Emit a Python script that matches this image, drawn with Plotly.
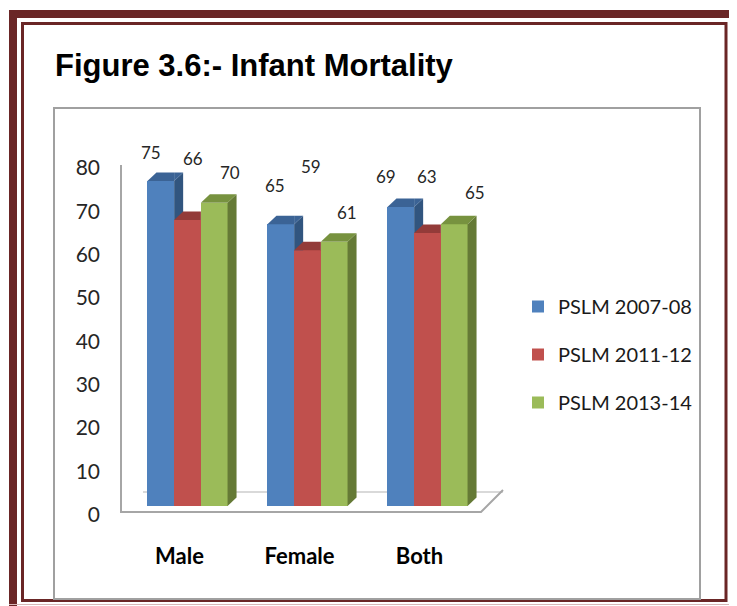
import plotly.graph_objects as go

# ---------------- data ----------------
categories = ["Male", "Female", "Both"]
series_names = ["PSLM 2007-08", "PSLM 2011-12", "PSLM 2013-14"]
pslm_2007_08 = [75, 65, 69]
pslm_2011_12 = [66, 59, 63]
pslm_2013_14 = [70, 61, 65]
y_tick_values = [0, 10, 20, 30, 40, 50, 60, 70, 80]
title_text = "Figure 3.6:- Infant Mortality"

series_values = [pslm_2007_08, pslm_2011_12, pslm_2013_14]

# ---------------- styles ----------------
front_colors = ["#4F81BD", "#C0504D", "#9BBB59"]
top_colors = ["#3B6395", "#933B39", "#77923F"]
side_colors = ["#31557F", "#7D3230", "#657A36"]
MAROON = "#6A2626"
TXT = "Lato, Liberation Sans, sans-serif"

# label pixel offsets (relative to bar centre / top), style only
label_dx = [[-9.5, -5.5, -15], [5.5, 3, -0.5], [15.5, 13, 20.5]]
label_dy = [[28.5, 39, 31], [61.5, 84, 57], [30, 29, 32]]

# geometry in reference-image pixels
REF_W, REF_H = 737, 606
OFF = 8                                  # page body margin of the browser
W, H = REF_W - OFF, REF_H - OFF          # figure size
PL, PR, PT, PB = 121, 503, 165, 520      # plot area (reference pixels)
ZERO_PX = 506                            # pixel of value 0 (bar floor)
LABEL_ZERO_PX = 514.5                    # pixel of tick label "0"
S = 4.333                                # px per unit (y)
UNIT = 120.0                             # px per category
CAT0_PX = 187.5                          # pixel of first category centre
BW = 26.7 / UNIT                         # bar width in x units
DXU = 9.0 / UNIT                         # depth x in units
DYU = 8.5 / S                            # depth y in units

xmin = (PL - CAT0_PX) / UNIT
xmax = (PR - CAT0_PX) / UNIT
ymin = -(PB - ZERO_PX) / S
ymax = (ZERO_PX - PT) / S
y2min = (LABEL_ZERO_PX - PB) / S
y2max = (LABEL_ZERO_PX - PT) / S


def xp(px):
    return (px - PL) / (PR - PL)


def yp(py):
    return (PB - py) / (PB - PT)


def clip(poly, f):
    """Sutherland-Hodgman clip of polygon against half plane f(p) >= 0."""
    out = []
    n = len(poly)
    for i in range(n):
        a, b = poly[i], poly[(i + 1) % n]
        fa, fb = f(a), f(b)
        if fa >= 0:
            out.append(a)
        if (fa >= 0) != (fb >= 0):
            t = fa / (fa - fb)
            out.append((a[0] + t * (b[0] - a[0]), a[1] + t * (b[1] - a[1])))
    return out


fig = go.Figure()

# front faces (bars)
for s, (name, vals) in enumerate(zip(series_names, series_values)):
    xs = [i + (s - 1) * BW for i in range(len(categories))]
    fig.add_trace(go.Bar(
        x=xs, y=vals, width=BW, name=name,
        marker=dict(color=front_colors[s], line=dict(width=0)),
        legendgroup=name, hoverinfo="skip",
    ))

# 3D side / top faces (visible parts only)
for i in range(len(categories)):
    for s in range(len(series_values)):
        v = series_values[s][i]
        c = i + (s - 1) * BW
        h = BW / 2
        side = [(c + h, 0), (c + h + DXU, DYU), (c + h + DXU, v + DYU), (c + h, v)]
        top = [(c - h, v), (c - h + DXU, v + DYU), (c + h + DXU, v + DYU), (c + h, v)]
        polys_side, polys_top = [], []
        if s < len(series_values) - 1:
            vn = series_values[s + 1][i]
            polys_side.append(clip(side, lambda p, vn=vn: p[1] - vn))
            polys_top.append(clip(top, lambda p, r=c + h: r - p[0]))
            right = clip(top, lambda p, r=c + h: p[0] - r)
            polys_top.append(clip(right, lambda p, vn=vn: p[1] - vn))
        else:
            polys_side.append(side)
            polys_top.append(top)
        for polys, col in ((polys_side, side_colors[s]), (polys_top, top_colors[s])):
            for poly in polys:
                if len(poly) < 3:
                    continue
                fig.add_trace(go.Scatter(
                    x=[p[0] for p in poly] + [poly[0][0]],
                    y=[p[1] for p in poly] + [poly[0][1]],
                    mode="lines", fill="toself", fillcolor=col,
                    line=dict(width=0, color=col),
                    showlegend=False, hoverinfo="skip",
                ))

# invisible trace to carry the label axis
fig.add_trace(go.Scatter(x=[0], y=[0], yaxis="y2", mode="markers",
                         marker=dict(opacity=0), showlegend=False, hoverinfo="skip"))

annotations = []
# data labels
for s, vals in enumerate(series_values):
    for i, v in enumerate(vals):
        annotations.append(dict(
            x=i + (s - 1) * BW, y=v, xref="x", yref="y", text=str(v),
            showarrow=False, xshift=label_dx[s][i], yshift=label_dy[s][i],
            font=dict(family=TXT, size=17, color="#262626"),
            xanchor="center", yanchor="middle",
        ))
# title
annotations.append(dict(
    x=xp(53), y=yp(66), xref="paper", yref="paper", text=title_text,
    showarrow=False, xanchor="left", yanchor="middle",
    font=dict(family="Liberation Sans, Arial, sans-serif", size=31,
              color="#000000", weight="bold"),
))

shapes = [
    # outer thick maroon band
    dict(type="rect", xref="paper", yref="paper",
         x0=xp(13), x1=xp(734.5), y0=yp(14), y1=yp(640),
         line=dict(color=MAROON, width=8), fillcolor="rgba(0,0,0,0)"),
    # inner thin maroon line
    dict(type="rect", xref="paper", yref="paper",
         x0=xp(22.5), x1=xp(726), y0=yp(23.5), y1=yp(600.5),
         line=dict(color=MAROON, width=3), fillcolor="rgba(0,0,0,0)"),
    # faint line under inner frame
    dict(type="line", xref="paper", yref="paper",
         x0=xp(9), x1=xp(737), y0=yp(604.5), y1=yp(604.5),
         line=dict(color="#D8B8B8", width=1)),
    # chart box
    dict(type="rect", xref="paper", yref="paper",
         x0=xp(54), x1=xp(700), y0=yp(108), y1=yp(599),
         line=dict(color="#A0A0A0", width=2), fillcolor="rgba(0,0,0,0)"),
    # back floor line
    dict(type="line", xref="paper", yref="paper", layer="below",
         x0=xp(143), x1=xp(503), y0=yp(492), y1=yp(492),
         line=dict(color="#D9D9D9", width=2)),
    # vertical axis line
    dict(type="line", xref="paper", yref="paper",
         x0=xp(121), x1=xp(121), y0=yp(165), y1=yp(512),
         line=dict(color="#A6A6A6", width=2)),
    # front floor edge
    dict(type="path", xref="paper", yref="paper",
         path=f"M {xp(120)},{yp(512)} L {xp(481)},{yp(512)} L {xp(503)},{yp(490)}",
         line=dict(color="#A6A6A6", width=2)),
]

fig.update_layout(
    width=W, height=H,
    margin=dict(l=PL - OFF, r=REF_W - PR, t=PT - OFF, b=REF_H - PB, pad=0),
    paper_bgcolor="white", plot_bgcolor="white",
    barmode="overlay", bargap=0,
    showlegend=True,
    legend=dict(
        xref="container", yref="container",
        x=(518 - OFF) / W, y=1 - (287 - OFF) / H, xanchor="left", yanchor="top",
        font=dict(family=TXT, size=20, color="#1a1a1a"),
        tracegroupgap=19, traceorder="grouped",
        bgcolor="rgba(0,0,0,0)", borderwidth=0,
    ),
    xaxis=dict(
        range=[xmin, xmax], tickmode="array", tickvals=list(range(len(categories))),
        ticktext=categories, showgrid=False, zeroline=False, showline=False,
        ticks="", ticklabelshift=-8, ticklabelstandoff=21,
        tickfont=dict(family=TXT, size=22, color="#000000", weight="bold"),
        fixedrange=True,
    ),
    yaxis=dict(
        range=[ymin, ymax], showgrid=False, zeroline=False, showticklabels=False,
        showline=False, ticks="", fixedrange=True,
    ),
    yaxis2=dict(
        range=[y2min, y2max], overlaying="y", side="left", anchor="x",
        tickmode="array", tickvals=y_tick_values,
        showgrid=False, zeroline=False, showline=False, ticks="",
        ticklabelstandoff=20,
        tickfont=dict(family=TXT, size=21, color="#262626"),
        fixedrange=True,
    ),
    annotations=annotations,
    shapes=shapes,
)

fig.write_html("out.html")
